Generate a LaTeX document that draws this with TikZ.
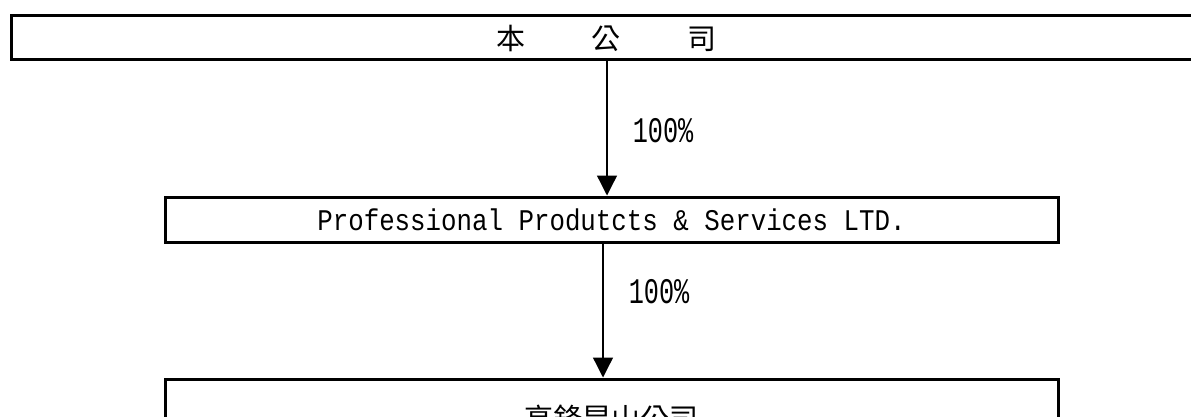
\documentclass[tikz,border=0pt]{standalone}
\usepackage{fontspec}
\newfontfamily\cjk{Noto Sans CJK TC}
\newfontfamily\lat{Liberation Mono}[FakeStretch=0.86]
\newfontfamily\latn{Liberation Mono}[FakeStretch=0.7]
\usetikzlibrary{arrows.meta}
\begin{document}
\begin{tikzpicture}[x=1pt,y=-1pt,
  box/.style={draw,line width=3pt,inner sep=0pt,anchor=north west},
  arr/.style={line width=1.3pt,-{Triangle[width=20pt,length=20pt]}},
  lbl/.style={font=\latn\fontsize{36}{36}\selectfont,inner sep=0pt}]
\clip (0,0) rectangle (1191,416);
\fill[white] (0,0) rectangle (1191,416);
\node[box,minimum width=1190pt,minimum height=44pt,text height=25pt,text depth=0pt,font=\cjk\fontsize{29}{29}\selectfont] (b1) at (10,13.5)
  {本\hspace{67pt}公\hspace{67pt}司};
\node[box,minimum width=893pt,minimum height=45pt,font=\lat\fontsize{30}{30}\selectfont] (b2) at (163.5,195.5)
  {Professional Produtcts \& Services LTD.};
\node[box,minimum width=893pt,minimum height=80pt,text height=25pt,text depth=5pt,font=\cjk\fontsize{29}{29}\selectfont] (b3) at (163.5,377.5)
  {高鋒昆山公司};
\coordinate (x1) at (607,0);
\coordinate (x2) at (603,0);
\draw[arr] (b1.south -| x1) -- (b2.north -| x1);
\draw[arr] (b2.south -| x2) -- (b3.north -| x2);
\node[lbl] (l1) at (663,131) {100\%};
\node[lbl] (l2) at (659,292) {100\%};
\end{tikzpicture}
\end{document}
